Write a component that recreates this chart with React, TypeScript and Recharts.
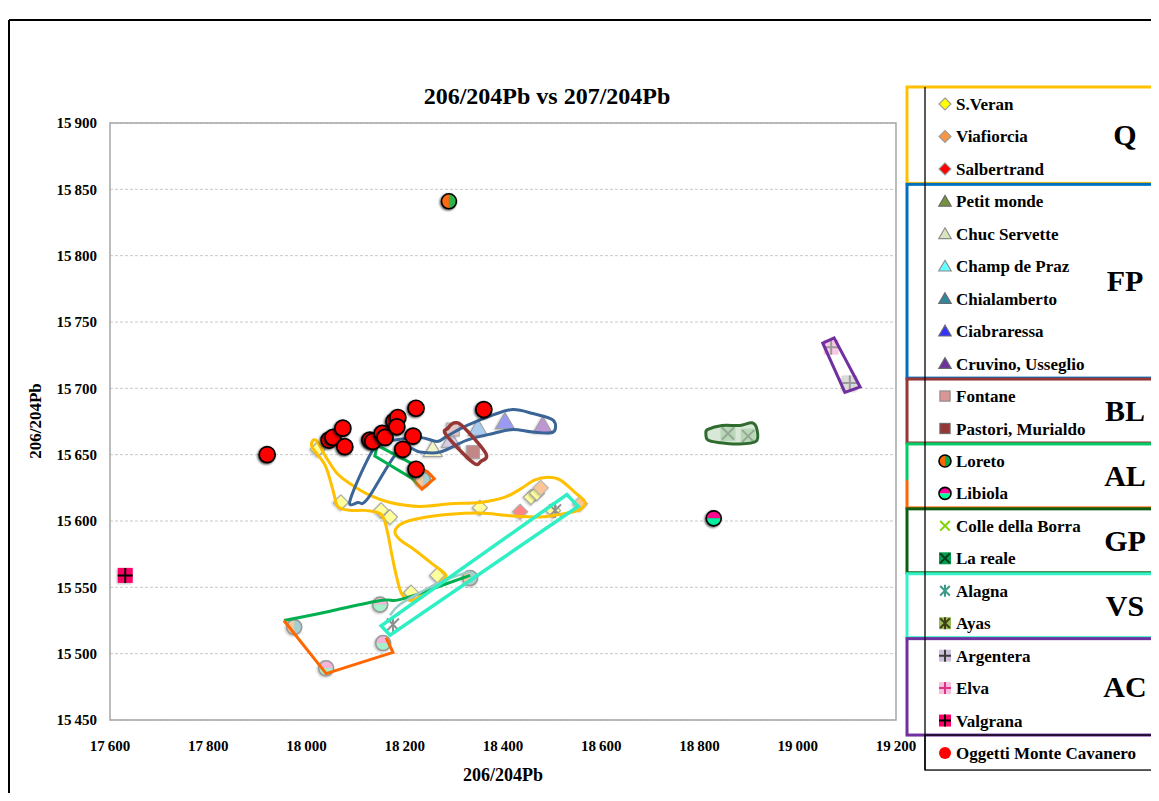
import React from "react";
import {
  ScatterChart,
  Scatter,
  XAxis,
  YAxis,
  CartesianGrid,
  ReferenceArea,
} from "recharts";

const FONT = '"Liberation Serif", "Times New Roman", serif';

const xTicks = [17600, 17800, 18000, 18200, 18400, 18600, 18800, 19000, 19200];
const yTicks = [15450, 15500, 15550, 15600, 15650, 15700, 15750, 15800, 15850, 15900];

// ---- samples (x = 206/204Pb, y = 207/204Pb scaled) ----
const sVeran = [
  { x: 18023, y: 15654 }, { x: 18070, y: 15614 }, { x: 18152, y: 15608 },
  { x: 18170, y: 15603 }, { x: 18353, y: 15610 }, { x: 18457, y: 15618 },
  { x: 18469, y: 15621 }, { x: 18502, y: 15608 }, { x: 18213, y: 15546 },
  { x: 18266, y: 15559 },
];
const viafiorcia = [{ x: 18477, y: 15625 }, { x: 18557, y: 15613 }];
const salbertrand = [{ x: 18435, y: 15607 }];
const chucServette = [{ x: 18257, y: 15654 }];
const chialamberto = [{ x: 18294, y: 15661 }];
const champDePraz = [{ x: 18349, y: 15670 }];
const ciabraressa = [{ x: 18404, y: 15675 }];
const cruvino = [{ x: 18481, y: 15672 }];
const fontane = [{ x: 18298, y: 15669 }];
const pastori = [{ x: 18339, y: 15652 }];
const loreto = [{ x: 18290, y: 15841 }];
const loretoPale = [{ x: 17975, y: 15520 }, { x: 18237, y: 15631 }, { x: 18333, y: 15557 }];
const libiola = [{ x: 18829, y: 15602 }];
const libiolaPale = [{ x: 18150, y: 15537 }, { x: 18156, y: 15508 }, { x: 18040, y: 15489 }];
const laReale = [{ x: 18858, y: 15666 }, { x: 18899, y: 15664 }];
const alagna = [{ x: 18176, y: 15522 }, { x: 18506, y: 15608 }];
const argentera = [{ x: 19106, y: 15704 }];
const elva = [{ x: 19068, y: 15731 }];
const valgrana = [{ x: 17631, y: 15559 }];
const oggetti = [
  { x: 17920, y: 15650 }, { x: 18046, y: 15661 }, { x: 18054, y: 15663 },
  { x: 18074, y: 15670 }, { x: 18078, y: 15656 }, { x: 18129, y: 15661 },
  { x: 18135, y: 15660 }, { x: 18154, y: 15666 }, { x: 18160, y: 15663 },
  { x: 18178, y: 15675 }, { x: 18186, y: 15678 }, { x: 18184, y: 15671 },
  { x: 18223, y: 15685 }, { x: 18217, y: 15664 }, { x: 18196, y: 15654 },
  { x: 18223, y: 15639 }, { x: 18361, y: 15684 },
];

// ---- group envelopes ----
const envQ = [
  { x: 18019, y: 15661 }, { x: 18040, y: 15648 }, { x: 18062, y: 15636 }, { x: 18089, y: 15628 },
  { x: 18125, y: 15620 }, { x: 18170, y: 15614 }, { x: 18231, y: 15611 }, { x: 18292, y: 15613 },
  { x: 18353, y: 15614 }, { x: 18404, y: 15618 }, { x: 18435, y: 15624 }, { x: 18465, y: 15631 },
  { x: 18492, y: 15633 }, { x: 18516, y: 15631 }, { x: 18545, y: 15622 }, { x: 18567, y: 15614 },
  { x: 18553, y: 15608 }, { x: 18516, y: 15605 }, { x: 18475, y: 15603 }, { x: 18414, y: 15604 },
  { x: 18353, y: 15606 }, { x: 18292, y: 15605 }, { x: 18231, y: 15602 }, { x: 18194, y: 15598 },
  { x: 18180, y: 15592 }, { x: 18190, y: 15586 }, { x: 18221, y: 15578 }, { x: 18255, y: 15568 },
  { x: 18284, y: 15559 }, { x: 18268, y: 15553 }, { x: 18239, y: 15545 }, { x: 18213, y: 15540 },
  { x: 18194, y: 15545 }, { x: 18184, y: 15557 }, { x: 18174, y: 15574 }, { x: 18164, y: 15593 },
  { x: 18152, y: 15605 }, { x: 18119, y: 15608 }, { x: 18089, y: 15608 }, { x: 18064, y: 15611 },
  { x: 18054, y: 15623 }, { x: 18038, y: 15642 }, { x: 18011, y: 15656 },
];
const envFP = [
  { x: 18089, y: 15616 }, { x: 18141, y: 15657 }, { x: 18180, y: 15661 }, { x: 18231, y: 15663 },
  { x: 18266, y: 15660 }, { x: 18286, y: 15664 }, { x: 18327, y: 15672 }, { x: 18380, y: 15680 },
  { x: 18420, y: 15684 }, { x: 18461, y: 15681 }, { x: 18502, y: 15676 }, { x: 18502, y: 15667 },
  { x: 18461, y: 15667 }, { x: 18420, y: 15669 }, { x: 18380, y: 15666 }, { x: 18327, y: 15661 },
  { x: 18272, y: 15652 }, { x: 18231, y: 15652 }, { x: 18190, y: 15654 }, { x: 18125, y: 15617 },
  { x: 18105, y: 15614 },
];
const envBL = [
  { x: 18288, y: 15670 }, { x: 18302, y: 15674 }, { x: 18319, y: 15671 }, { x: 18365, y: 15651 },
  { x: 18355, y: 15645 }, { x: 18339, y: 15644 }, { x: 18284, y: 15665 },
];
const envALsmall = [
  { x: 18144, y: 15657 }, { x: 18247, y: 15637 }, { x: 18260, y: 15632 },
  { x: 18235, y: 15624 }, { x: 18215, y: 15632 }, { x: 18139, y: 15649 },
];
const alGreen = [
  { x: 17954, y: 15525 }, { x: 18048, y: 15532 }, { x: 18150, y: 15540 }, { x: 18176, y: 15540 },
  { x: 18211, y: 15543 }, { x: 18272, y: 15551 }, { x: 18333, y: 15559 },
];
const alOrange = [
  { x: 17954, y: 15525 }, { x: 18040, y: 15485 }, { x: 18176, y: 15501 }, { x: 18162, y: 15512 },
];
const vsTrail = [
  { x: 18170, y: 15529 }, { x: 18190, y: 15537 }, { x: 18231, y: 15546 },
  { x: 18272, y: 15554 }, { x: 18333, y: 15562 },
];
const envVS = [
  { x: 18152, y: 15521 }, { x: 18170, y: 15514 }, { x: 18553, y: 15611 }, { x: 18530, y: 15620 },
];
const envAC = [
  { x: 19051, y: 15734 }, { x: 19074, y: 15738 }, { x: 19127, y: 15701 }, { x: 19096, y: 15697 },
];
const envGP = [
  { x: 18817, y: 15669 }, { x: 18846, y: 15672 }, { x: 18882, y: 15672 }, { x: 18907, y: 15674 },
  { x: 18917, y: 15669 }, { x: 18915, y: 15660 }, { x: 18878, y: 15658 }, { x: 18842, y: 15659 },
  { x: 18817, y: 15661 }, { x: 18813, y: 15666 },
];

// ---- legend ----
const legendNames = [
  "S.Veran", "Viafiorcia", "Salbertrand",
  "Petit monde", "Chuc Servette", "Champ de Praz", "Chialamberto", "Ciabraressa", "Cruvino, Usseglio",
  "Fontane", "Pastori, Murialdo",
  "Loreto", "Libiola",
  "Colle della Borra", "La reale",
  "Alagna", "Ayas",
  "Argentera", "Elva", "Valgrana",
  "Oggetti Monte Cavanero",
];
const legendGroups = [
  { code: "Q", from: 0, to: 2 },
  { code: "FP", from: 3, to: 8 },
  { code: "BL", from: 9, to: 10 },
  { code: "AL", from: 11, to: 12 },
  { code: "GP", from: 13, to: 14 },
  { code: "VS", from: 15, to: 16 },
  { code: "AC", from: 17, to: 19 },
];

type Look = { kind: string; fill?: string; fill2?: string; stroke?: string; ink?: string };

const groupColor: Record<string, string> = {
  Q: "#FFC000",
  FP: "#0070C0",
  BL: "#953735",
  AL: "url(#alBox)",
  GP: "#0B5E12",
  VS: "#33F2C8",
  AC: "#7030A0",
};

const legendLooks: Look[] = [
  { kind: "diamond", fill: "#FFFF00", stroke: "#9A9A9A" },
  { kind: "diamond", fill: "#F79646", stroke: "#9A9A9A" },
  { kind: "diamond", fill: "#FF0000", stroke: "#9A9A9A" },
  { kind: "triangle", fill: "#76923C", stroke: "#6A6A6A" },
  { kind: "triangle", fill: "#D7E4BD", stroke: "#8A8A8A" },
  { kind: "triangle", fill: "#66FFFF", stroke: "#8A8A8A" },
  { kind: "triangle", fill: "#31859C", stroke: "#6A6A6A" },
  { kind: "triangle", fill: "#3333FF", stroke: "#6A6A6A" },
  { kind: "triangle", fill: "#7030A0", stroke: "#6A6A6A" },
  { kind: "square", fill: "#D99694", stroke: "#8A8A8A" },
  { kind: "square", fill: "#953735", stroke: "#6A6A6A" },
  { kind: "halfV", fill: "#FF6600", fill2: "#00B050", stroke: "#000" },
  { kind: "halfH", fill: "#FF0099", fill2: "#00FF99", stroke: "#000" },
  { kind: "x", ink: "#7FD400" },
  { kind: "x", ink: "#003A1C", fill: "#00A050" },
  { kind: "star", ink: "#3A9A88" },
  { kind: "star", ink: "#3E3E14", fill: "#9BBB59" },
  { kind: "plus", ink: "#3C3C3C", fill: "#CCC0DA" },
  { kind: "plus", ink: "#E0308A", fill: "#F9C0DC" },
  { kind: "plus", ink: "#000", fill: "#FF0066" },
  { kind: "circle", fill: "#FF0000" },
];

// closed Catmull-Rom curve for the hand-drawn envelopes
const closedSmooth = (context: any) => {
  let pts: number[][] = [];
  return {
    areaStart() {},
    areaEnd() {},
    lineStart() {
      pts = [];
    },
    point(x: number, y: number) {
      pts.push([+x, +y]);
    },
    lineEnd() {
      const n = pts.length;
      if (n < 3) return;
      context.moveTo(pts[0][0], pts[0][1]);
      for (let i = 0; i < n; i++) {
        const p0 = pts[(i - 1 + n) % n];
        const p1 = pts[i];
        const p2 = pts[(i + 1) % n];
        const p3 = pts[(i + 2) % n];
        context.bezierCurveTo(
          p1[0] + (p2[0] - p0[0]) / 6, p1[1] + (p2[1] - p0[1]) / 6,
          p2[0] - (p3[0] - p1[0]) / 6, p2[1] - (p3[1] - p1[1]) / 6,
          p2[0], p2[1]
        );
      }
      context.closePath();
    },
  };
};

function markerNode(look: Look, cx: number, cy: number, r: number, shadow?: string) {
  const style = shadow ? { filter: shadow } : undefined;
  const sw = 1.1;
  switch (look.kind) {
    case "diamond":
      return (
        <path style={style} d={`M${cx},${cy - r}L${cx + r},${cy}L${cx},${cy + r}L${cx - r},${cy}Z`}
          fill={look.fill} stroke={look.stroke} strokeWidth={sw} />
      );
    case "triangle":
      return (
        <path style={style}
          d={`M${cx},${cy - r}L${cx + r * 1.05},${cy + r * 0.8}L${cx - r * 1.05},${cy + r * 0.8}Z`}
          fill={look.fill} stroke={look.stroke} strokeWidth={sw} />
      );
    case "square":
      return (
        <rect style={style} x={cx - r * 0.85} y={cy - r * 0.85} width={r * 1.7} height={r * 1.7}
          fill={look.fill} stroke={look.stroke} strokeWidth={sw} />
      );
    case "circle":
      return (
        <circle style={style} cx={cx} cy={cy} r={r} fill={look.fill}
          stroke={look.stroke || "none"} strokeWidth={1.7} />
      );
    case "halfV":
    case "halfH": {
      const a = look.kind === "halfV"
        ? `M${cx},${cy - r}A${r},${r} 0 0 0 ${cx},${cy + r}Z`
        : `M${cx - r},${cy}A${r},${r} 0 0 1 ${cx + r},${cy}Z`;
      const b = look.kind === "halfV"
        ? `M${cx},${cy - r}A${r},${r} 0 0 1 ${cx},${cy + r}Z`
        : `M${cx - r},${cy}A${r},${r} 0 0 0 ${cx + r},${cy}Z`;
      return (
        <g style={style}>
          <path d={a} fill={look.fill} />
          <path d={b} fill={look.fill2} />
          <circle cx={cx} cy={cy} r={r} fill="none" stroke={look.stroke} strokeWidth={1.6} />
        </g>
      );
    }
    case "x":
    case "plus":
    case "star": {
      const k = r * 0.8;
      const bg = look.fill ? (
        <rect x={cx - r} y={cy - r} width={r * 2} height={r * 2} fill={look.fill} />
      ) : null;
      const arms: string[] = [];
      if (look.kind !== "plus") arms.push(`M${cx - k},${cy - k}L${cx + k},${cy + k}M${cx - k},${cy + k}L${cx + k},${cy - k}`);
      if (look.kind !== "x") arms.push(`M${cx},${cy - r}L${cx},${cy + r}`);
      if (look.kind === "plus") arms.push(`M${cx - r},${cy}L${cx + r},${cy}`);
      return (
        <g style={style}>
          {bg}
          <path d={arms.join("")} stroke={look.ink} strokeWidth={2} fill="none" />
        </g>
      );
    }
    default:
      return <g />;
  }
}

const SHADOW = "drop-shadow(-1px 1.5px 1.2px rgba(0,0,0,0.7))";
const SOFT = "drop-shadow(-1px 1.5px 1px rgba(0,0,0,0.25))";

const mk = (look: Look, r: number, shadow?: string) => (p: any) =>
  markerNode(look, p.cx, p.cy, r, shadow);
const hidden = () => <g />;

const fmt = (v: number) => {
  const s = String(v);
  return `${s.slice(0, 2)}\u2009${s.slice(2)}`;
};

const tickStyle = { fontFamily: FONT, fontSize: 15, fontWeight: 700, fill: "#000" };

// legend row positions
const rowY = (i: number) => 96 + i * 32.45;

function Legend() {
  return (
    <g fontFamily={FONT}>
      {legendGroups.map((g) => {
        const top = rowY(g.from) - 17;
        const bottom = rowY(g.to) + 14.5;
        return (
          <g key={g.code}>
            <rect x={899} y={top} width={248} height={bottom - top} fill="none"
              stroke={groupColor[g.code]} strokeWidth={3} />
            <text x={1117} y={(top + bottom) / 2 + 10} textAnchor="middle" fontSize={30}
              fontWeight={700} fill="#000">{g.code}</text>
          </g>
        );
      })}
      <rect x={917} y={rowY(19) + 14.5} width={230} height={35} fill="none" stroke="#000" strokeWidth={1.3} />
      <line x1={917} y1={rowY(0) - 17} x2={917} y2={rowY(19) + 49.5} stroke="#000" strokeWidth={1.3} />
      {legendNames.map((name, i) => (
        <g key={name}>
          {markerNode(legendLooks[i], 937, rowY(i), 6)}
          <text x={948} y={rowY(i) + 6} fontSize={17} fontWeight={700} fill="#000">{name}</text>
        </g>
      ))}
    </g>
  );
}

export default function App() {
  return (
    <div style={{ position: "relative", width: 1143, height: 785 }}>
      <ScatterChart width={1143} height={785} margin={{ top: 115, right: 255, bottom: 33, left: 42 }}>
        <CartesianGrid vertical={false} stroke="#C8C8C8" strokeDasharray="3 2" />
        <XAxis type="number" dataKey="x" domain={[17600, 19200]} ticks={xTicks}
          tickFormatter={fmt} tick={tickStyle} tickLine={false} axisLine={false}
          tickMargin={14} height={40} allowDataOverflow />
        <YAxis type="number" dataKey="y" domain={[15450, 15900]} ticks={yTicks}
          tickFormatter={fmt} tick={tickStyle} tickLine={false} axisLine={false}
          tickMargin={7} width={60} allowDataOverflow />
        <ReferenceArea x1={17600} x2={19200} y1={15450} y2={15900} fill="none" fillOpacity={0}
          stroke="#A6A6A6" strokeWidth={1.5} />

        {/* faded reference samples */}
        <Scatter data={sVeran} shape={mk({ kind: "diamond", fill: "#FFFF9E", stroke: "#A5A5A5" }, 7.5, SOFT)} isAnimationActive={false} />
        <Scatter data={viafiorcia} shape={mk({ kind: "diamond", fill: "#FBC596", stroke: "#B8B8B8" }, 7.5, SOFT)} isAnimationActive={false} />
        <Scatter data={salbertrand} shape={mk({ kind: "diamond", fill: "#FF8585", stroke: "#B0B0B0" }, 7.5, SOFT)} isAnimationActive={false} />
        <Scatter data={chucServette} shape={mk({ kind: "triangle", fill: "#F2F5C8", stroke: "#A0A0A0" }, 9, SOFT)} isAnimationActive={false} />
        <Scatter data={chialamberto} shape={mk({ kind: "triangle", fill: "#D6CCE6", stroke: "#A0A0A0" }, 9, SOFT)} isAnimationActive={false} />
        <Scatter data={champDePraz} shape={mk({ kind: "triangle", fill: "#A9CBEF", stroke: "#A0A0A0" }, 9, SOFT)} isAnimationActive={false} />
        <Scatter data={ciabraressa} shape={mk({ kind: "triangle", fill: "#9A9AF5", stroke: "#A0A0A0" }, 9, SOFT)} isAnimationActive={false} />
        <Scatter data={cruvino} shape={mk({ kind: "triangle", fill: "#BE96D2", stroke: "#A0A0A0" }, 9, SOFT)} isAnimationActive={false} />
        <Scatter data={fontane} shape={mk({ kind: "square", fill: "#E3C6C6", stroke: "#A8A8A8" }, 7.5, SOFT)} isAnimationActive={false} />
        <Scatter data={pastori} shape={mk({ kind: "square", fill: "#C48787", stroke: "#A8A8A8" }, 7.5, SOFT)} isAnimationActive={false} />
        <Scatter data={loretoPale} shape={mk({ kind: "halfV", fill: "#F7C7A0", fill2: "#A6CFCF", stroke: "#9A9A9A" }, 7.5, SOFT)} isAnimationActive={false} />
        <Scatter data={libiolaPale} shape={mk({ kind: "halfH", fill: "#F8B4D8", fill2: "#A6EFCB", stroke: "#9A9A9A" }, 7.5, SOFT)} isAnimationActive={false} />
        <Scatter data={laReale} shape={mk({ kind: "x", ink: "#9A9A9A", fill: "rgba(150,200,150,0.45)" }, 7.5)} isAnimationActive={false} />
        <Scatter data={alagna} shape={mk({ kind: "star", ink: "#8F8F8F" }, 7.5)} isAnimationActive={false} />
        <Scatter data={argentera} shape={mk({ kind: "plus", ink: "#9A9A9A", fill: "#DADADA" }, 7.5, SOFT)} isAnimationActive={false} />
        <Scatter data={elva} shape={mk({ kind: "plus", ink: "#9A9A9A", fill: "#F9C8E4" }, 7.5)} isAnimationActive={false} />

        {/* group envelopes */}
        <Scatter data={envQ} shape={hidden} line={{ stroke: "#FFC000", strokeWidth: 3 }} lineType="joint" lineJointType={closedSmooth as any} isAnimationActive={false} />
        <Scatter data={envFP} shape={hidden} line={{ stroke: "#3A6596", strokeWidth: 3 }} lineType="joint" lineJointType={closedSmooth as any} isAnimationActive={false} />
        <Scatter data={envBL} shape={hidden} line={{ stroke: "#953735", strokeWidth: 3.5 }} lineType="joint" lineJointType={closedSmooth as any} isAnimationActive={false} />
        <Scatter data={envALsmall} shape={hidden} line={{ stroke: "url(#alSmall)", strokeWidth: 3 }} lineType="joint" lineJointType="linearClosed" isAnimationActive={false} />
        <Scatter data={alGreen} shape={hidden} line={{ stroke: "#00B050", strokeWidth: 3 }} lineType="joint" lineJointType="natural" isAnimationActive={false} />
        <Scatter data={alOrange} shape={hidden} line={{ stroke: "#FF6600", strokeWidth: 3 }} lineType="joint" lineJointType="linear" isAnimationActive={false} />
        <Scatter data={vsTrail} shape={hidden} line={{ stroke: "#9CC9C9", strokeWidth: 2.5 }} lineType="joint" lineJointType="natural" isAnimationActive={false} />
        <Scatter data={envVS} shape={hidden} line={{ stroke: "#2EF0C4", strokeWidth: 3.5 }} lineType="joint" lineJointType="linearClosed" isAnimationActive={false} />
        <Scatter data={envAC} shape={hidden} line={{ stroke: "#7030A0", strokeWidth: 3 }} lineType="joint" lineJointType="linearClosed" isAnimationActive={false} />
        <Scatter data={envGP} shape={hidden} line={{ stroke: "#2F6B2F", strokeWidth: 3, fill: "rgba(140,190,140,0.35)" }} lineType="joint" lineJointType={closedSmooth as any} isAnimationActive={false} />

        {/* highlighted samples */}
        <Scatter data={loreto} shape={mk({ kind: "halfV", fill: "#FF6A10", fill2: "#2DB34A", stroke: "#000" }, 7.5, SHADOW)} isAnimationActive={false} />
        <Scatter data={libiola} shape={mk({ kind: "halfH", fill: "#FF0A8C", fill2: "#00F0A0", stroke: "#000" }, 7.5, SHADOW)} isAnimationActive={false} />
        <Scatter data={valgrana} shape={mk({ kind: "plus", ink: "#000", fill: "#FF0066" }, 7.5, SOFT)} isAnimationActive={false} />
        <Scatter data={oggetti} shape={mk({ kind: "circle", fill: "#FF0000", stroke: "#000" }, 8, SHADOW)} isAnimationActive={false} />
      </ScatterChart>

      <svg width={1151} height={793} style={{ position: "absolute", left: 0, top: 0, pointerEvents: "none" }}>
        <defs>
          <linearGradient id="alBox" x1="0" y1="0" x2="0" y2="1">
            <stop offset="0" stopColor="#00CC66" />
            <stop offset="0.55" stopColor="#00CC66" />
            <stop offset="0.58" stopColor="#FF6600" />
            <stop offset="1" stopColor="#FF6600" />
          </linearGradient>
          <linearGradient id="alSmall" x1="0" y1="0" x2="1" y2="0">
            <stop offset="0" stopColor="#00B050" />
            <stop offset="0.6" stopColor="#00B050" />
            <stop offset="0.75" stopColor="#FF6600" />
            <stop offset="1" stopColor="#FF6600" />
          </linearGradient>
        </defs>
        <line x1={1} y1={12} x2={1151} y2={12} stroke="#000" strokeWidth={2} />
        <line x1={1} y1={12} x2={1} y2={793} stroke="#000" strokeWidth={2} />
        <text x={539} y={96} textAnchor="middle" fontFamily={FONT} fontSize={24} fontWeight={700}>
          206/204Pb vs 207/204Pb
        </text>
        <text x={495} y={773} textAnchor="middle" fontFamily={FONT} fontSize={18} fontWeight={700}>
          206/204Pb
        </text>
        <text x={27} y={413} transform="rotate(-90 27 413)" textAnchor="middle" dominantBaseline="central"
          fontFamily={FONT} fontSize={17} fontWeight={700}>
          206/204Pb
        </text>
        <Legend />
      </svg>
    </div>
  );
}
